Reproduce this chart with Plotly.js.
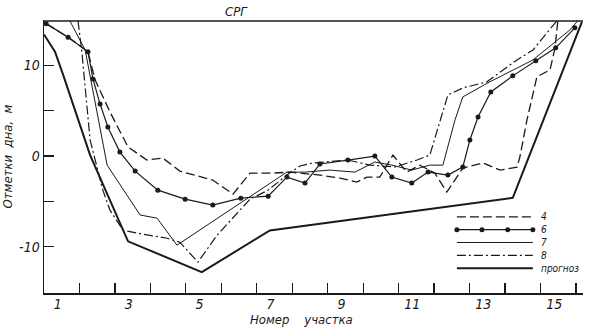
<!DOCTYPE html>
<html>
<head>
<meta charset="utf-8">
<script src="https://cdn.plot.ly/plotly-3.0.1.min.js"></script>
<style>html,body{margin:0;padding:0;background:#fff;}#chart{width:598px;height:328px;}</style>
</head>
<body>
<div id="chart"></div>
<script>
// ---- data (x = section number, y = bed elevation, m) ----
const srgLevel = 14.9;
const srgX = [0.5, 15.7];

const s4X = [0.56,1.18,1.74,1.94,2.36,2.87,3.40,3.85,4.33,5.26,5.83,6.31,6.96,7.44,8.28,8.85,9.32,9.61,9.97,10.34,10.73,11.10,11.52,11.86,12.31,12.88,13.36,13.84,13.92,14.12,14.40,14.77,14.91,14.99];
const s4Y = [14.6,13.1,11.5,8.4,4.86,1.0,-0.44,-0.22,-1.66,-2.65,-4.2,-1.88,-1.88,-1.77,-2.1,-2.43,-2.87,-2.32,-2.32,0.11,-1.77,-1.0,-1.88,-3.98,-1.33,-0.77,-1.55,-1.22,-0.11,3.98,8.73,9.5,11.9,14.9];

const s6X = [0.56,1.18,1.74,1.88,2.08,2.30,2.64,3.07,3.71,4.48,5.26,6.05,6.82,7.35,7.86,8.28,9.07,9.83,10.31,10.87,11.33,11.89,12.31,12.51,12.74,13.10,13.72,14.37,14.93,15.47];
const s6Y = [14.6,13.1,11.5,8.5,5.75,3.2,0.44,-1.66,-3.76,-4.75,-5.4,-4.64,-4.42,-2.32,-2.98,-0.88,-0.44,0.0,-2.32,-2.98,-1.77,-2.1,-1.22,1.77,4.3,7.07,8.84,10.5,11.93,14.14];

const s7X = [1.23,1.66,2.28,3.21,3.69,4.25,7.35,7.86,8.56,9.27,9.83,10.31,10.87,11.38,11.75,12.09,12.31,13.07,14.29,15.33,15.55];
const s7Y = [14.9,11.7,-1.0,-6.5,-6.85,-9.83,-1.77,-1.77,-1.55,-1.77,-0.66,-1.0,-1.55,-1.0,-1.0,3.98,6.52,8.18,10.6,13.9,14.9];

const s8X = [1.46,1.57,1.80,2.16,2.36,2.73,3.29,3.97,4.33,4.84,5.38,5.83,6.31,6.82,7.35,7.72,8.08,9.07,9.69,10.40,11.02,11.38,11.89,12.31,12.99,13.84,14.29,14.96];
const s8Y = [14.9,11.4,1.77,-3.76,-5.97,-8.18,-8.62,-9.06,-9.5,-11.7,-8.73,-6.85,-4.75,-3.76,-2.1,-1.1,-0.77,-0.44,-1.0,-1.2,-0.44,0.11,6.74,7.51,8.18,10.6,11.7,14.9];

const progX = [0.5,0.81,1.04,1.37,1.80,2.87,4.95,6.87,13.72,15.67];
const progY = [13.4,11.5,8.95,5.1,0.1,-9.4,-12.8,-8.2,-4.6,14.8];

const xLabelVals = [1,3,5,7,9,11,13,15];
const sectionBounds = [1.5,2.5,3.5,4.5,5.5,6.5,7.5,8.5,9.5,10.5,11.5,12.5,13.5,14.5,15.5];
const yTickVals = [-10,-5,0,5,10];
const yTickText = ['-10','','0','','10'];
const legendNames = ['4','6','7','8','прогноз'];

// ---- styles ----
const ink = '#1a1a1a';
const fontFam = 'Liberation Sans Narrow, DejaVu Sans Condensed, Liberation Sans, sans-serif';
const styles = [
  {line:{color:ink,width:1.3,dash:'9px,4px'}, mode:'lines'},
  {line:{color:ink,width:1.2}, mode:'lines+markers', marker:{size:5,color:ink}},
  {line:{color:ink,width:1.0}, mode:'lines'},
  {line:{color:ink,width:1.2,dash:'9px,3px,2px,3px'}, mode:'lines'},
  {line:{color:ink,width:2.0}, mode:'lines'}
];
const seriesX = [s4X,s6X,s7X,s8X,progX];
const seriesY = [s4Y,s6Y,s7Y,s8Y,progY];

const traces = [];
traces.push({x:srgX, y:[srgLevel,srgLevel], mode:'lines', line:{color:ink,width:1.5}, showlegend:false, hoverinfo:'skip'});
for (let i=0;i<5;i++){
  traces.push(Object.assign({x:seriesX[i], y:seriesY[i], name:legendNames[i], showlegend:false}, styles[i]));
}
// hand-drawn legend samples on an auxiliary axis pair
const legendAnn = [];
for (let i=0;i<5;i++){
  const yv = 4-i;
  const t = Object.assign({x:[0,1], y:[yv,yv], xaxis:'x3', yaxis:'y3', showlegend:false, cliponaxis:false, hoverinfo:'skip'}, styles[i]);
  if (i===1){ t.x=[0,0.33,0.67,1]; t.y=[yv,yv,yv,yv]; }
  traces.push(t);
  legendAnn.push({xref:'x3', yref:'y3', x:1.05, y:yv, text:legendNames[i], showarrow:false, xanchor:'left', yanchor:'middle', xshift:3,
    borderpad:0, font:{family:fontFam, size:10, color:ink, style:'italic'}});
}

const layout = {
  width:598, height:328,
  margin:{l:44, r:15, t:20, b:35},
  paper_bgcolor:'#fff', plot_bgcolor:'rgba(0,0,0,0)',
  showlegend:false,
  font:{family:fontFam, color:ink, size:13},
  xaxis:{
    range:[0.5,15.7], showgrid:false, zeroline:false,
    showline:true, linecolor:ink, linewidth:1.5,
    tickmode:'array', tickvals:xLabelVals, ticks:'',
    ticklabelshift:-4, ticklabelstandoff:-2,
    tickfont:{family:fontFam, size:14, color:ink, style:'italic'},
    minor:{tickmode:'array', tickvals:sectionBounds, ticks:'inside', ticklen:10, tickwidth:1.2, tickcolor:ink, showgrid:false}
  },
  yaxis:{
    range:[-15.1,15.0], showgrid:false, zeroline:false,
    showline:true, linecolor:ink, linewidth:1.5,
    tickmode:'array', tickvals:yTickVals, ticktext:yTickText,
    ticks:'inside', ticklen:10, tickwidth:1.2, tickcolor:ink,
    tickfont:{family:fontFam, size:14, color:ink, style:'italic'},
    title:{text:'Отметки  дна,  м', font:{family:fontFam, size:13, color:ink, style:'italic'}, standoff:4}
  },
  xaxis3:{domain:[0.759,0.914], range:[-0.05,1.05], visible:false, anchor:'y3'},
  yaxis3:{domain:[0.044,0.326], range:[-1,5], visible:false, anchor:'x3'},
  annotations:[
    {xref:'paper', yref:'paper', x:0.358, y:1.0, yanchor:'bottom', yshift:-1, text:'СРГ', showarrow:false,
     font:{family:fontFam, size:13, color:ink, style:'italic'}},
    {xref:'paper', yref:'paper', x:0.477, y:0, yanchor:'top', yshift:-17, text:'Номер    участка', showarrow:false,
     font:{family:fontFam, size:13, color:ink, style:'italic'}}
  ].concat(legendAnn)
};

Plotly.newPlot('chart', traces, layout, {staticPlot:true, displayModeBar:false});
</script>
</body>
</html>
